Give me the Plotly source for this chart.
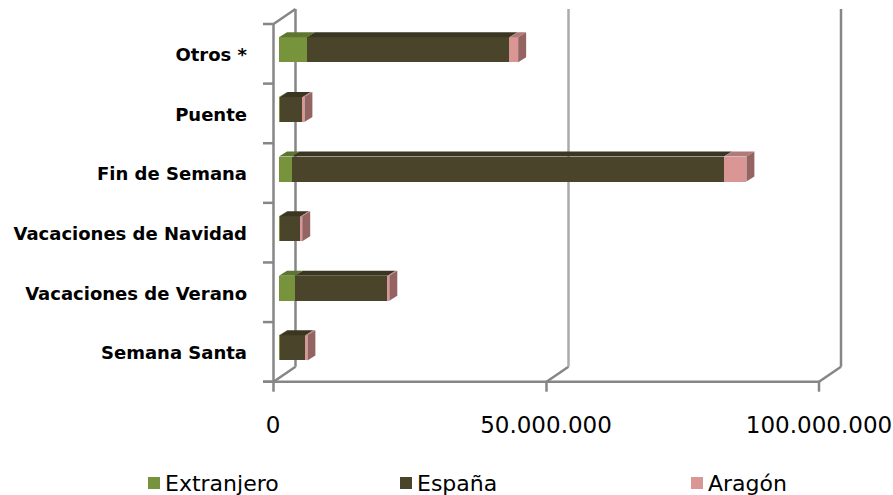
import plotly.graph_objects as go

categories = ["Semana Santa", "Vacaciones de Verano", "Vacaciones de Navidad",
              "Fin de Semana", "Puente", "Otros *"]
series_names = ["Extranjero", "España", "Aragón"]
extranjero = [0.1e6, 2.9e6, 0.1e6, 2.3e6, 0.15e6, 5.1e6]
espana = [4.75e6, 17.0e6, 3.9e6, 79.2e6, 4.2e6, 37.1e6]
aragon = [0.35e6, 0.3e6, 0.25e6, 4.1e6, 0.3e6, 1.6e6]
x_tickvals = [0, 50e6, 100e6]
x_ticktext = ["0", "50.000.000", "100.000.000"]

front_colors = ["#77933C", "#4A452A", "#D99694"]
top_colors = ["#5E7530", "#3A3621", "#B07A78"]
side_color = "#946462"

W, H = 893, 495
X0, X1 = 279, 825          # plot x domain in px (front face of bars)
YB, YT = 377.7, 20         # plot y domain in px
px_per_unit_x = (X1 - X0) / 100e6
px_per_unit_y = (YB - YT) / 6.0
DXP, DYP = 8, 5            # 3D depth offset in px
dx = DXP / px_per_unit_x
dy = DYP / px_per_unit_y
BW = 0.42

fig = go.Figure()
series = [extranjero, espana, aragon]
ypos = list(range(len(categories)))
for name, vals, col in zip(series_names, series, front_colors):
    fig.add_trace(go.Bar(y=ypos, x=vals, name=name, orientation="h",
                         marker=dict(color=col, line=dict(width=0)),
                         width=BW, showlegend=False, hoverinfo="x+name"))

shapes = []

def P(x, y):
    return x / W, 1 - y / H

def pline(xa, ya, xb, yb, color="#868686", w=2.5, layer="below"):
    a = P(xa, ya); b = P(xb, yb)
    shapes.append(dict(type="line", xref="paper", yref="paper", x0=a[0], y0=a[1],
                       x1=b[0], y1=b[1], line=dict(color=color, width=w), layer=layer))

# frame: front axis, floor, ticks, back wall lines
FX = [273.5, 546.5, 819]
BX = [f + 22 for f in FX]
FLOOR = 381.7
TOPF = 24
pline(FX[0], TOPF, FX[0], FLOOR + 1)
for k in range(7):
    yk = TOPF + (FLOOR - TOPF) / 6 * k
    pline(263, yk, FX[0], yk)
pline(263, FLOOR, FX[-1], FLOOR)
for i, (fx, bx) in enumerate(zip(FX, BX)):
    pline(fx, FLOOR, fx, FLOOR + 10)
    pline(fx, FLOOR, bx, FLOOR - 15)
    col = "#868686" if i != 1 else "#ABABAB"
    pline(bx, 9, bx, FLOOR - 15, color=col)
pline(FX[0], TOPF, BX[0], 9)

# 3D faces computed from data
for i in ypos:
    start = 0.0
    ytop = i + BW / 2
    for s, vals in enumerate(series):
        v = vals[i]
        x0, x1 = start, start + v
        path = (f"M {x0},{ytop} L {x1},{ytop} L {x1 + dx},{ytop + dy} "
                f"L {x0 + dx},{ytop + dy} Z")
        shapes.append(dict(type="path", xref="x", yref="y", path=path,
                           fillcolor=top_colors[s], line=dict(width=0)))
        start = x1
    ybot = i - BW / 2
    path = (f"M {start},{ybot} L {start + dx},{ybot + dy} L {start + dx},{ytop + dy} "
            f"L {start},{ytop} Z")
    shapes.append(dict(type="path", xref="x", yref="y", path=path,
                       fillcolor=side_color, line=dict(width=0)))

# legend (manual)
annotations = []
leg_x = [148, 400, 691]
LY = 483
for name, col, lx in zip(series_names, front_colors, leg_x):
    a = P(lx, LY - 6); b = P(lx + 12, LY + 6)
    shapes.append(dict(type="rect", xref="paper", yref="paper", x0=a[0], y0=b[1],
                       x1=b[0], y1=a[1], fillcolor=col, line=dict(width=0)))
    t = P(lx + 15, LY)
    annotations.append(dict(xref="paper", yref="paper", x=t[0], y=t[1], text=name,
                            showarrow=False, xanchor="left", yanchor="middle",
                            font=dict(family="DejaVu Sans", size=22, color="#000000")))

fig.update_layout(
    width=W, height=H, margin=dict(l=0, r=0, t=0, b=0),
    paper_bgcolor="white", plot_bgcolor="white",
    barmode="stack", bargap=0,
    shapes=shapes, annotations=annotations, showlegend=False,
    xaxis=dict(domain=[X0 / W, X1 / W], range=[0, 100e6], tickvals=x_tickvals,
               ticktext=x_ticktext, showgrid=False, zeroline=False, showline=False,
               ticks="", ticklabelshift=-6, ticklabelstandoff=31, automargin=False,
               tickfont=dict(family="DejaVu Sans", size=23, color="#000000")),
    yaxis=dict(domain=[1 - YB / H, 1 - YT / H], range=[-0.5, 5.5], tickvals=ypos,
               ticktext=categories, showgrid=False, zeroline=False, showline=False,
               ticks="", ticklabelshift=5, ticklabelstandoff=31, automargin=False,
               tickfont=dict(family="DejaVu Sans", size=18, color="#000000",
                             weight="bold")),
)
fig.write_html("out.html")
